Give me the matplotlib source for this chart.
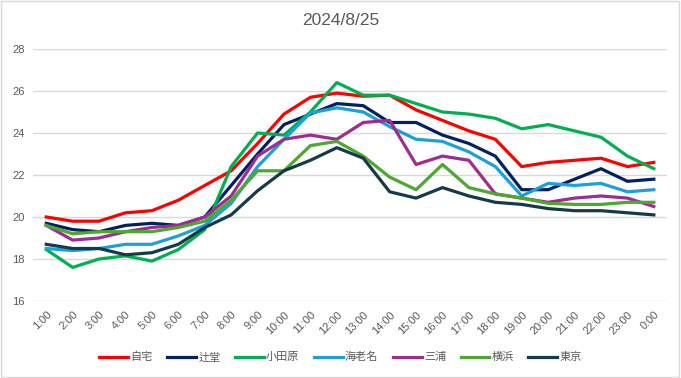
import matplotlib
matplotlib.use("Agg")
import matplotlib.pyplot as plt
from matplotlib.patches import Rectangle

plt.rcParams['font.family'] = ['Liberation Sans', 'Noto Sans CJK JP', 'DejaVu Sans']

# 時刻
hours = ["1:00", "2:00", "3:00", "4:00", "5:00", "6:00", "7:00", "8:00", "9:00", "10:00",
         "11:00", "12:00", "13:00", "14:00", "15:00", "16:00", "17:00", "18:00", "19:00",
         "20:00", "21:00", "22:00", "23:00", "0:00"]

# 各地点の気温
jitaku = [20.0, 19.8, 19.8, 20.2, 20.3, 20.8, 21.5, 22.2, 23.5, 24.9, 25.7, 25.9,
          25.75, 25.8, 25.1, 24.6, 24.1, 23.7, 22.4, 22.6, 22.7, 22.8, 22.4, 22.6]
tsujido = [19.7, 19.4, 19.3, 19.6, 19.7, 19.6, 20.0, 21.5, 23.0, 24.4, 24.9, 25.4,
           25.3, 24.5, 24.5, 23.9, 23.5, 22.9, 21.3, 21.3, 21.8, 22.3, 21.7, 21.8]
odawara = [18.45, 17.6, 18.0, 18.15, 17.9, 18.45, 19.4, 22.4, 24.0, 23.9, 25.0, 26.4,
           25.8, 25.8, 25.4, 25.0, 24.9, 24.7, 24.2, 24.4, 24.1, 23.8, 22.9, 22.3]
ebina = [18.5, 18.4, 18.5, 18.7, 18.7, 19.1, 19.6, 20.65, 22.4, 23.7, 24.95, 25.2,
         25.0, 24.3, 23.7, 23.6, 23.1, 22.4, 21.0, 21.6, 21.5, 21.6, 21.2, 21.3]
miura = [19.6, 18.9, 19.0, 19.3, 19.5, 19.6, 20.0, 21.0, 22.9, 23.7, 23.9, 23.7,
         24.5, 24.6, 22.5, 22.9, 22.7, 21.1, 20.9, 20.7, 20.9, 21.0, 20.9, 20.5]
yokohama = [19.6, 19.2, 19.3, 19.3, 19.3, 19.5, 19.8, 20.8, 22.2, 22.2, 23.4, 23.6,
            22.9, 21.9, 21.3, 22.5, 21.4, 21.1, 20.9, 20.65, 20.6, 20.6, 20.7, 20.7]
tokyo = [18.7, 18.5, 18.5, 18.2, 18.3, 18.7, 19.5, 20.1, 21.25, 22.2, 22.7, 23.3,
         22.8, 21.2, 20.9, 21.4, 21.0, 20.7, 20.6, 20.4, 20.3, 20.3, 20.2, 20.1]

series = [
    ("自宅", jitaku, "#FF0000"),
    ("辻堂", tsujido, "#002060"),
    ("小田原", odawara, "#00B050"),
    ("海老名", ebina, "#1AA0DC"),
    ("三浦", miura, "#A02B93"),
    ("横浜", yokohama, "#4EA72E"),
    ("東京", tokyo, "#153A4A"),
]

fig = plt.figure(figsize=(6.81, 3.78), dpi=100)
ax = fig.add_axes([0.0485, 0.2037, 0.931, 0.6667])

x = list(range(len(hours)))
for name, vals, col in series:
    ax.plot(x, vals, color=col, linewidth=2.3, label=name, solid_joinstyle='round')

ax.set_xlim(-0.5, len(hours) - 0.5)
ax.set_ylim(16, 28)
ax.set_yticks([16, 18, 20, 22, 24, 26, 28])
ax.set_xticks(x)
ax.set_xticklabels(hours, rotation=45, ha='right', rotation_mode='anchor')
ax.tick_params(length=0, labelsize=8, colors='#595959', pad=6)
ax.grid(axis='y', color='#D9D9D9', linewidth=1)
ax.set_axisbelow(True)
for s in ax.spines.values():
    s.set_visible(False)

fig.text(0.5, 0.945, "2024/8/25", ha='center', va='center', fontsize=12.5, color='#595959')

fig.legend(loc='center', bbox_to_anchor=(0.5, 0.055), ncol=7, frameon=False,
           fontsize=8, handlelength=2.6, handletextpad=0.2, columnspacing=1.3,
           labelcolor='#595959')

# 外枠
fig.patches.append(Rectangle((0.001, 0.003), 0.996, 0.995, transform=fig.transFigure,
                             fill=False, edgecolor='#D9D9D9', linewidth=1))

fig.savefig("out.png", dpi=100)
